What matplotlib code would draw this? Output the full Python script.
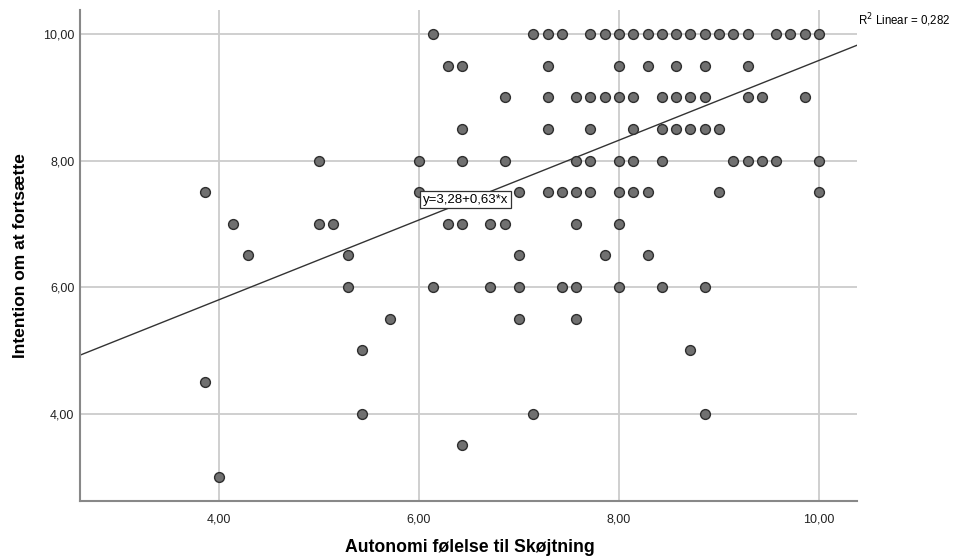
import matplotlib
matplotlib.use("Agg")
import matplotlib.pyplot as plt
import numpy as np

# Autonomi (x) and intention (y)
autonomi = [
    6.14, 7.14, 7.29, 7.43, 7.71, 7.86, 8.00, 8.14, 8.29, 8.43, 8.57, 8.71, 8.86, 9.00, 9.14, 9.29, 9.57, 9.71, 9.86, 10.00,
    6.29, 6.43, 7.29, 8.00, 8.29, 8.57, 8.86, 9.29,
    6.86, 7.29, 7.57, 7.71, 7.86, 8.00, 8.14, 8.43, 8.57, 8.71, 8.86, 9.29, 9.43, 9.86,
    6.43, 7.29, 7.71, 8.14, 8.43, 8.57, 8.71, 8.86, 9.00,
    5.00, 6.00, 6.43, 6.86, 7.57, 7.71, 8.00, 8.14, 8.43, 9.14, 9.29, 9.43, 9.57, 10.00,
    3.86, 6.00, 7.00, 7.29, 7.43, 7.57, 7.71, 8.00, 8.14, 8.29, 9.00, 10.00,
    4.14, 5.00, 5.14, 6.29, 6.43, 6.71, 6.86, 7.57, 8.00,
    4.29, 5.29, 7.00, 7.86, 8.29,
    5.29, 6.14, 6.71, 7.00, 7.43, 7.57, 8.00, 8.43, 8.86,
    5.71, 7.00, 7.57,
    5.43, 8.71,
    3.86,
    5.43, 7.14, 8.86,
    6.43,
    4.00,
]
intention = (
    [10.0] * 20 + [9.5] * 8 + [9.0] * 14 + [8.5] * 9 + [8.0] * 14 + [7.5] * 12
    + [7.0] * 9 + [6.5] * 5 + [6.0] * 9 + [5.5] * 3 + [5.0] * 2 + [4.5] * 1
    + [4.0] * 3 + [3.5] * 1 + [3.0] * 1
)

# fit line as printed on the chart
intercept = 3.28
slope = 0.63
r2_text = "R$^2$ Linear = 0,282"

ticks = [4.0, 6.0, 8.0, 10.0]
tick_labels = ["4,00", "6,00", "8,00", "10,00"]

plt.rcParams["font.family"] = ["Liberation Sans", "DejaVu Sans"]

fig = plt.figure(figsize=(9.54, 5.59), dpi=100)
ax = fig.add_axes([0.0839, 0.1038, 0.8145, 0.8792])

xlim = (2.61, 10.385)
ylim = (2.62, 10.387)
ax.set_xlim(*xlim)
ax.set_ylim(*ylim)

ax.set_xticks(ticks)
ax.set_xticklabels(tick_labels)
ax.set_yticks(ticks)
ax.set_yticklabels(tick_labels)
ax.tick_params(length=0, labelsize=9, colors="#222222")
ax.tick_params(axis="x", pad=9)
ax.tick_params(axis="y", pad=4)

ax.grid(True, color="#cccccc", linewidth=1.3)
ax.set_axisbelow(True)
for side in ["top", "right"]:
    ax.spines[side].set_visible(False)
for side in ["left", "bottom"]:
    ax.spines[side].set_color("#888888")
    ax.spines[side].set_linewidth(1.5)

xs = np.array(xlim)
ax.plot(xs, intercept + slope * xs, color="#333333", linewidth=1.0, zorder=2)

ax.scatter(autonomi, intention, s=50, facecolor="#707070", edgecolor="#2e2e2e",
           linewidth=1.0, zorder=3, clip_on=False)

ax.text(6.04, 7.38, "y=3,28+0,63*x", fontsize=9.5, ha="left", va="center", zorder=4,
        bbox=dict(boxstyle="square,pad=0.2", facecolor="white", edgecolor="#333333", linewidth=0.9))

ax.set_xlabel("Autonomi følelse til Skøjtning", fontsize=12.7, fontweight="bold")
ax.set_ylabel("Intention om at fortsætte", fontsize=12.5, fontweight="bold")
ax.xaxis.set_label_coords(0.502, -0.094)
ax.yaxis.set_label_coords(-0.077, 0.5)
ax.xaxis.label.set_va("center")
ax.yaxis.label.set_va("center")

fig.text(858 / 954, 1 - 20 / 559, r2_text, fontsize=8.3, ha="left", va="center")

fig.savefig("out.png", dpi=100)
